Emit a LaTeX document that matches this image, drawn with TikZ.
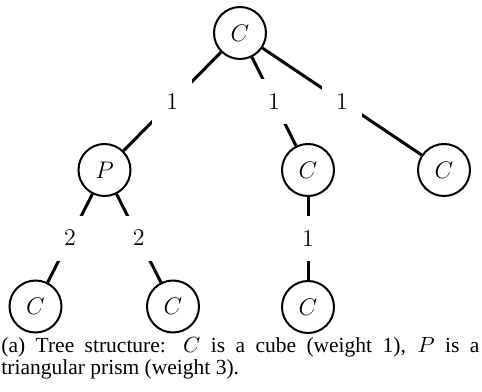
\documentclass[tikz,border=0pt]{standalone}
\usepackage{fontspec}
\setmainfont{Liberation Serif}
\begin{document}
\begin{tikzpicture}[x=1pt,y=1pt,
  treenode/.style={draw, circle, line width=1pt, minimum size=26pt, inner sep=0pt,
    font=\fontsize{12.4}{14}\selectfont},
  treeedge/.style={line width=1.5pt},
  weightlbl/.style={fill=white, inner xsep=7pt, inner ysep=7.5pt,
    font=\fontsize{12.4}{14}\selectfont},
  captext/.style={anchor=base west, inner sep=0pt, font=\fontsize{10.75}{12}\selectfont}]
\useasboundingbox (0,0) rectangle (241,195.5);
\node[treenode] (root) at (120,179) {$C$};
\node[treenode] (p) at (52.25,110.5) {$P$};
\node[treenode] (mc) at (154,110.5) {$C$};
\node[treenode] (rc) at (222,110.5) {$C$};
\node[treenode] (bl) at (17.75,42.25) {$C$};
\node[treenode] (bm) at (86.5,42.25) {$C$};
\node[treenode] (br) at (154,42) {$C$};
\draw[treeedge] (root) -- node[weightlbl] (l1) {$1$} (p);
\draw[treeedge] (root) -- node[weightlbl] (l2) {$1$} (mc);
\draw[treeedge] (root) -- node[weightlbl] (l3) {$1$} (rc);
\draw[treeedge] (p) -- node[weightlbl] (l4) {$2$} (bl);
\draw[treeedge] (p) -- node[weightlbl] (l5) {$2$} (bm);
\draw[treeedge] (mc) -- node[weightlbl] (l6) {$1$} (br);
\node[captext] (cap1) at (0.5,19.15) {\makebox[239pt][s]{(a) Tree structure: $C$ is a cube (weight 1), $P$ is a}};
\node[captext] (cap2) at (0.5,8.35) {triangular prism (weight 3).};
\end{tikzpicture}
\end{document}
